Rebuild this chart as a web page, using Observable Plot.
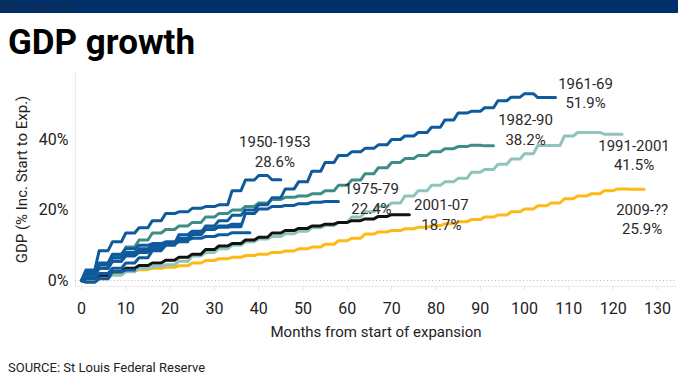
<!DOCTYPE html>
<html><head><meta charset="utf-8">
<script src="https://cdn.jsdelivr.net/npm/d3@7"></script>
<script src="https://cdn.jsdelivr.net/npm/@observablehq/plot@0.6"></script>
<style>
html,body{margin:0;padding:0;background:#fff;}
#wrap{position:relative;width:698px;height:392px;overflow:hidden;font-family:Roboto,sans-serif;}
#bar{position:absolute;left:0;top:0;width:678px;height:13px;background:#00306b;color:#1f2b3d;font-size:9px;line-height:13px;padding-left:2px;box-sizing:border-box;white-space:nowrap;}
#title{position:absolute;left:8px;top:23px;font-size:35px;font-weight:700;color:#000;line-height:40px;white-space:nowrap;}
#chart{position:absolute;left:0;top:70px;}
#source{position:absolute;left:8px;top:360px;font-size:13px;line-height:16px;color:#222;white-space:nowrap;}
</style></head><body>
<div id="wrap">
  <div id="bar">GDP compare 740</div>
  <div id="title">GDP growth</div>
  <div id="chart"></div>
  <div id="source">SOURCE: St Louis Federal Reserve</div>
</div>
<script>
// ---- data (quarterly GDP % increase from start of expansion; each quarter spans 3 months) ----
const seriesNames = ["2009-??","1991-2001","2001-07","1982-90","1980-81","1970-73","1958-60","1954-57","1975-79","1961-69","1950-53"];
const seriesMonths = [127,122,74,93,12,36,24,38,58,107,45];
const q2009 = [0,0.8,1.5,2.2,2.7,3.1,3.5,3.8,4.2,5,5.7,6.2,6.6,7.1,7.5,8,8.4,9,9.5,10.3,11.3,12,13.2,13.8,14.2,14.7,15.1,15.6,16.1,16.7,17.3,18,18.6,19.5,20.3,21.2,22,23.2,24,24.6,25.5,26,25.9];
const q1991 = [0,0.5,1,1.5,2.5,3.5,4,4.5,5.5,7,8,9,10,11,11.8,12.5,13.3,14,15,15.6,16.5,18,19.5,21,22,24,25.5,27,28,29,30.7,31.5,33,34.5,36,38.3,38.3,41,42,42,41.5];
const q2001 = [0,0.5,1.5,2.5,3.5,4.3,5,5.8,6.6,7.5,8.8,9.8,10.5,11.5,12.3,13.5,14.2,14.8,15.5,16,16.5,17,17.5,18.2,18.7];
const q1982 = [0,2,4.5,7,9.5,11.5,13.5,14.5,15.5,16.5,18,19,20,21,22,23,23.6,24,24.6,25.5,27,28.5,30.3,32,33.5,34.6,35.5,36.5,37.4,38,38.4,38.2];
const q1980 = [0,-0.5,0.5,2.5,3];
const q1970 = [0,0.5,2,3.5,5,6.5,8.5,10,11.5,13,14.5,15.5,16];
const q1958 = [0,2,4.5,6.5,8,9,10,10.5,11];
const q1954 = [0,2.5,5,7.5,9,10,10.5,11,11.5,12,12.5,13,13.6];
const q1975 = [0,1.5,3.5,5.5,7,8,9,10.5,13,14,14.7,15.1,15.3,19,20.3,21,21.3,21.8,22.2,22.4];
const q1961 = [0,1.5,3.5,5.5,7.5,8.5,9.5,10.5,12,13.5,15.5,17,18.5,20,21.5,23.5,26,28,31,33.5,35.5,36.5,37.5,38.5,40,41,42,43.5,45.5,47.5,48,49,51,52,53,51.9];
const q1950 = [0,3,8.5,11,13.5,15,17,19,19.5,20.5,21,21.5,25.5,28.5,29.8,28.6];
const seriesQuarterly = [q2009,q1991,q2001,q1982,q1980,q1970,q1958,q1954,q1975,q1961,q1950];

const labelSeries = ["1950-53","1961-69","1982-90","1991-2001","2009-??","1975-79","2001-07"];
const labelNames  = ["1950-1953","1961-69","1982-90","1991-2001","2009-??","1975-79","2001-07"];
const labelPcts   = ["28.6%","51.9%","38.2%","41.5%","25.9%","22.4%","18.7%"];

const xTicks = [0,10,20,30,40,50,60,70,80,90,100,110,120,130];
const yTicks = [0,20,40];
const xTitle = "Months from start of expansion";
const yTitle = "GDP (% Inc. Start to Exp.)";

// ---- styles ----
const BLUE = "#0f5a9c";
const colors = {"2009-??":"#fdb915","1991-2001":"#8fc4bc","2001-07":"#111111","1982-90":"#3f8d87",
  "1980-81":BLUE,"1970-73":BLUE,"1958-60":BLUE,"1954-57":BLUE,"1975-79":BLUE,"1961-69":BLUE,"1950-53":BLUE};
const labelOffsets = {"1950-53":[-6,-29],"1961-69":[30,-5.5],"1982-90":[32,-17],"1991-2001":[12,20],
  "2009-??":[-2,29],"1975-79":[33,-4],"2001-07":[32,-1]};

// expand quarterly values to monthly rows (each quarterly value held for its months)
const rows = {};
seriesNames.forEach((n,i)=>{
  const q = seriesQuarterly[i], arr=[];
  for(let m=0;m<=seriesMonths[i];m++) arr.push({name:n, month:m, value:q[Math.min(q.length-1, Math.ceil(m/3))]});
  rows[n]=arr;
});

const xDom=[-1.35,134.3], yDom=[-1.67,59.0];
const lineMarks = seriesNames.map(n=>Plot.line(rows[n],{x:"month",y:"value",stroke:colors[n],strokeWidth:3,strokeLinejoin:"round",strokeLinecap:"round"}));
const labelMarks = labelSeries.map((s,i)=>{
  const r = rows[s], last = r[r.length-1];
  return Plot.text([{month:last.month,value:last.value,t:labelNames[i]+"\n"+labelPcts[i]}],
    {x:"month",y:"value",text:"t",dx:labelOffsets[s][0],dy:labelOffsets[s][1],fontSize:15,lineHeight:1.3,fill:"#2a2a2a",textAnchor:"middle"});
});

const chart = Plot.plot({
  width:698, height:280,
  marginLeft:75, marginRight:22, marginTop:2, marginBottom:64,
  x:{domain:xDom}, y:{domain:yDom},
  style:{fontFamily:"Roboto, sans-serif", fontSize:"16px", color:"#222", background:"transparent"},
  marks:[
    Plot.ruleX([xDom[0]],{stroke:"#ececec"}),
    Plot.ruleY([yDom[0]],{stroke:"#ececec"}),
    Plot.ruleY([0],{stroke:"#b5b5b5",strokeDasharray:"1,2.5"}),
    Plot.axisX({ticks:xTicks,tickSize:4,tickPadding:12,stroke:"#e6e6e6",label:null,fontSize:16}),
    Plot.axisY({ticks:yTicks,tickFormat:d=>d+"%",tickSize:0,tickPadding:7,label:null,fontSize:16}),
    ...lineMarks,
    ...labelMarks,
    Plot.text([xTitle],{frameAnchor:"bottom",dy:50,fontSize:15,fill:"#222"}),
    Plot.text([yTitle],{frameAnchor:"left",rotate:-90,dx:-53.5,fontSize:15,fill:"#222",textAnchor:"middle"})
  ]
});
document.getElementById("chart").appendChild(chart);
</script>
</body></html>
